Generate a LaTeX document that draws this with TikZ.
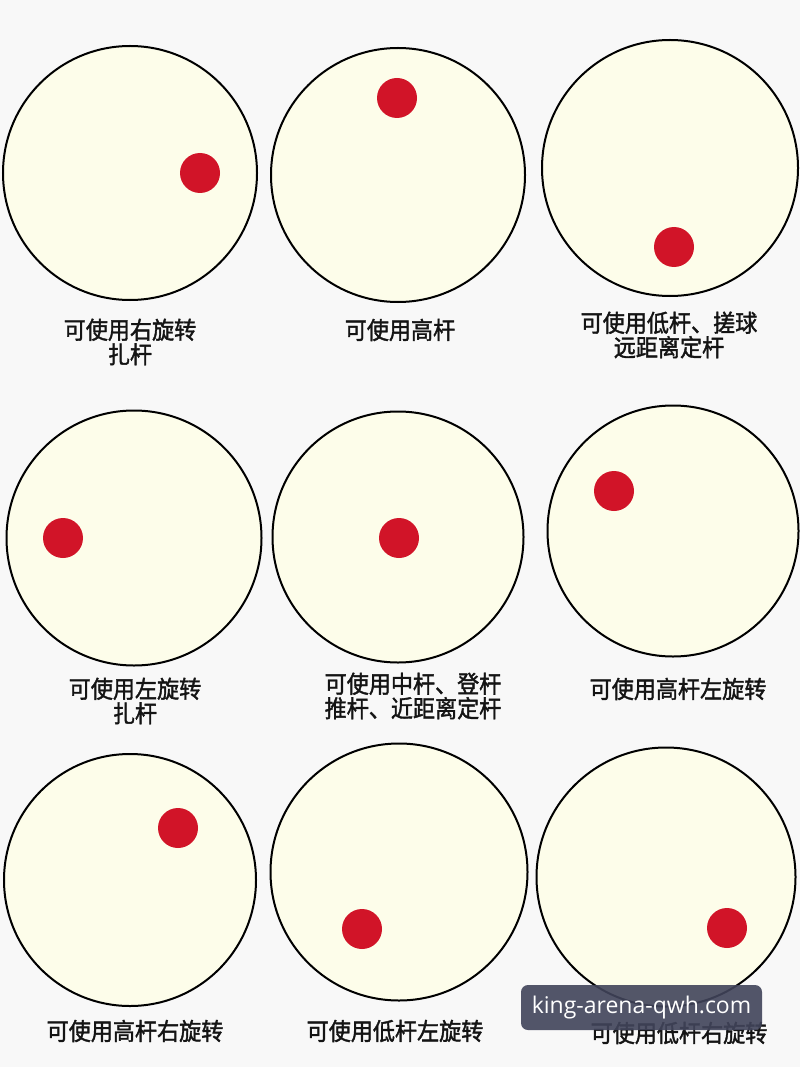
\documentclass[tikz,border=0pt]{standalone}
\usepackage{fontspec}
\newfontfamily\cjk[FakeBold=1.6,FakeStretch=0.92]{Noto Sans CJK SC}
\newfontfamily\wmfont{Open Sans}
\definecolor{bg}{HTML}{F8F8F8}
\definecolor{cue}{HTML}{FDFDEA}
\definecolor{spot}{HTML}{D11428}
\definecolor{wm}{HTML}{41445A}
\begin{document}
\begin{tikzpicture}[x=1pt,y=-1pt,
  ball/.style={circle, draw=black, line width=2pt, fill=cue, minimum size=#1, inner sep=0pt},
  spotdot/.style={circle, fill=spot, minimum size=40pt, inner sep=0pt},
  lbl/.style={font=\cjk\fontsize{24}{24.5}\selectfont, align=center, inner sep=0pt, text=black!92},
  wmbox/.style={rounded corners=7pt, fill=wm, fill opacity=0.9, text opacity=1, text=white,
    font=\wmfont\fontsize{23}{26}\selectfont, minimum width=241pt, minimum height=45pt, inner sep=0pt}]
\useasboundingbox (0,0) rectangle (800,1067);
\fill[bg] (0,0) rectangle (800,1067);
% row 1
\node[ball=254pt] (c1) at (130,173) {};
\node[spotdot] (d1) at (200,173) {};
\node[ball=254pt] (c2) at (398,175) {};
\node[spotdot] (d2) at (397,98) {};
\node[ball=256pt] (c3) at (670,168) {};
\node[spotdot] (d3) at (674,247) {};
% row 2
\node[ball=255pt] (c4) at (134,538) {};
\node[spotdot] (d4) at (63,538) {};
\node[ball=251pt] (c5) at (398,537) {};
\node[spotdot] (d5) at (399,538) {};
\node[ball=251pt] (c6) at (673,531) {};
\node[spotdot] (d6) at (614,491) {};
% row 3
\node[ball=252pt] (c7) at (130,880) {};
\node[spotdot] (d7) at (178,828) {};
\node[ball=257pt] (c8) at (399,872) {};
\node[spotdot] (d8) at (362,929) {};
\node[ball=259pt] (c9) at (666,877) {};
\node[spotdot] (d9) at (727,928) {};
% labels
\node[lbl] (t1) at (130,342) {可使用右旋转\\扎杆};
\node[lbl] (t2) at (400,330) {可使用高杆};
\node[lbl] (t3) at (669,335) {可使用低杆、搓球\\远距离定杆};
\node[lbl] (t4) at (135,701) {可使用左旋转\\扎杆};
\node[lbl] (t5) at (413,696) {可使用中杆、登杆\\推杆、近距离定杆};
\node[lbl] (t6) at (678,689) {可使用高杆左旋转};
\node[lbl] (t7) at (135,1031) {可使用高杆右旋转};
\node[lbl] (t8) at (395,1031) {可使用低杆左旋转};
\node[lbl] (t9) at (679,1033) {可使用低杆右旋转};
% watermark
\node[wmbox] (wm) at (641.5,1007.5) {king-arena-qwh.com};
\end{tikzpicture}
\end{document}
